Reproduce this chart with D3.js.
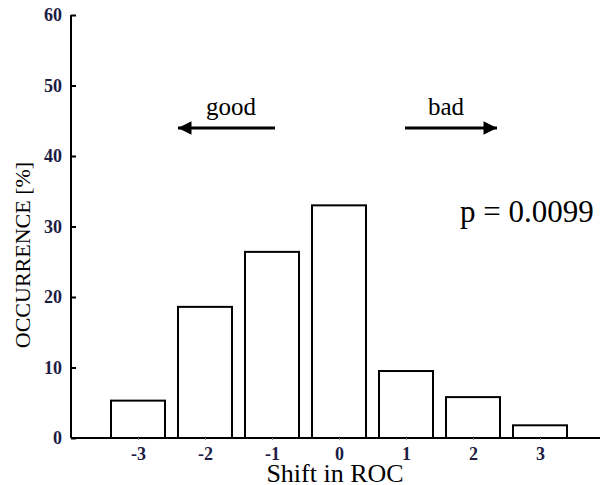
<!DOCTYPE html>
<html>
<head>
<meta charset="utf-8">
<script src="https://cdn.jsdelivr.net/npm/d3@7"></script>
<style>
  html, body { margin: 0; padding: 0; background: #fff; }
  svg { display: block; }
  text { font-family: "Liberation Serif", "DejaVu Serif", serif; }
</style>
</head>
<body>
<svg id="chart" width="601" height="485"></svg>
<script>
// Distribution of ROC shifts (percent of cases per shift step)
const shifts = [-3, -2, -1, 0, 1, 2, 3];
const occurrence = [5.3, 18.6, 26.4, 33.0, 9.5, 5.8, 1.8];
const yTicks = [0, 10, 20, 30, 40, 50, 60];
const pLabel = "p = 0.0099";

const serif = "'Liberation Serif', 'DejaVu Serif', serif";
const svg = d3.select("#chart");
const plotLeft = 71, plotBottom = 438, plotTop = 15, plotRight = 600;

const x = d3.scaleLinear().domain([-4, 4]).range([plotLeft, plotLeft + 8 * 67]);
const y = d3.scaleLinear().domain([0, 60]).range([plotBottom, plotTop]);
const barW = 54;
const tickColor = "#1c1c44";

// bars
svg.append("g").selectAll("rect")
  .data(shifts.map((s, i) => ({ s, v: occurrence[i] })))
  .join("rect")
  .attr("x", d => x(d.s) - barW / 2)
  .attr("y", d => y(d.v))
  .attr("width", barW)
  .attr("height", d => y(0) - y(d.v))
  .attr("fill", "#fff")
  .attr("stroke", "#000")
  .attr("stroke-width", 2);

// y axis (ticks pointing inward)
const yAxis = svg.append("g")
  .attr("transform", `translate(${plotLeft},0)`)
  .call(d3.axisRight(y).tickValues(yTicks).tickSize(5).tickFormat(d => String(d)));
yAxis.select(".domain").attr("stroke", "#000").attr("stroke-width", 2)
  .attr("d", `M0,${y(0)}V${y(60)}`);
yAxis.selectAll(".tick line").attr("stroke", "#000").attr("stroke-width", 2);
yAxis.selectAll(".tick text")
  .attr("x", -9).attr("text-anchor", "end").attr("dy", "0.33em")
  .attr("fill", tickColor)
  .style("font-family", serif).style("font-weight", "bold").style("font-size", "18px");

// x axis
const xAxis = svg.append("g")
  .attr("transform", `translate(0,${plotBottom})`)
  .call(d3.axisBottom(x).tickValues(shifts).tickSize(2).tickFormat(d => String(d)));
xAxis.select(".domain").attr("stroke", "#000").attr("stroke-width", 2)
  .attr("d", `M${plotLeft},0H${plotRight}`);
xAxis.selectAll(".tick line").attr("stroke", "#888").attr("stroke-width", 1);
xAxis.selectAll(".tick text")
  .attr("y", 22).attr("dy", null).attr("fill", tickColor)
  .style("font-family", serif).style("font-weight", "bold").style("font-size", "18px");

// axis titles
svg.append("text")
  .attr("x", 335).attr("y", 482)
  .attr("text-anchor", "middle").attr("fill", "#000")
  .style("font-family", serif).style("font-size", "26px")
  .text("Shift in ROC");
svg.append("text")
  .attr("transform", `translate(30,255) rotate(-90)`)
  .attr("text-anchor", "middle").attr("fill", "#000")
  .style("font-family", serif).style("font-size", "22px")
  .text("OCCURRENCE [%]");

// direction arrows
const defs = svg.append("defs");
defs.append("marker").attr("id", "head")
  .attr("viewBox", "0 0 10 10").attr("refX", 10).attr("refY", 5)
  .attr("markerWidth", 5.5).attr("markerHeight", 4.5).attr("orient", "auto")
  .attr("markerUnits", "strokeWidth")
  .append("path").attr("d", "M0,0L10,5L0,10Z").attr("fill", "#000");

const arrowY = 128;
svg.append("line")
  .attr("x1", 275).attr("y1", arrowY).attr("x2", 178).attr("y2", arrowY)
  .attr("stroke", "#000").attr("stroke-width", 3).attr("marker-end", "url(#head)");
svg.append("line")
  .attr("x1", 405).attr("y1", arrowY).attr("x2", 497).attr("y2", arrowY)
  .attr("stroke", "#000").attr("stroke-width", 3).attr("marker-end", "url(#head)");

svg.append("text").attr("x", 231).attr("y", 115)
  .attr("text-anchor", "middle")
  .style("font-family", serif).style("font-size", "25px").text("good");
svg.append("text").attr("x", 446).attr("y", 115)
  .attr("text-anchor", "middle")
  .style("font-family", serif).style("font-size", "25px").text("bad");

svg.append("text").attr("x", 460).attr("y", 222)
  .style("font-family", serif).style("font-size", "31px").text(pLabel);
</script>
</body>
</html>
